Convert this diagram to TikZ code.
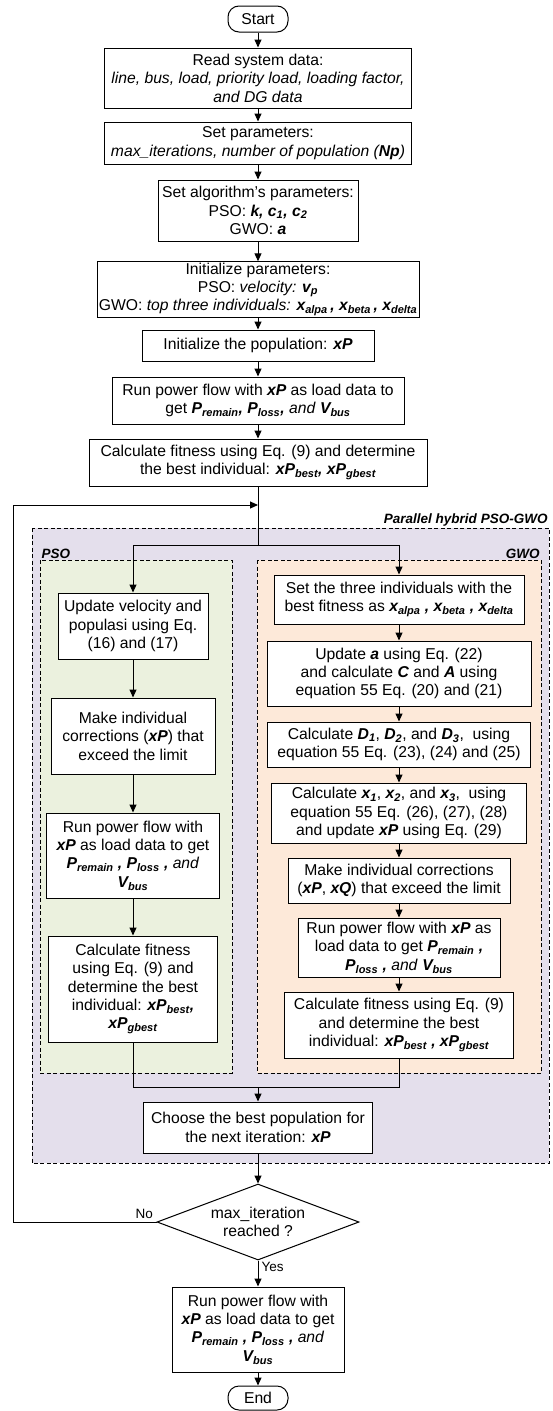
\documentclass[tikz,border=0pt]{standalone}
\usepackage{fontspec}
\setmainfont{Liberation Sans}
\usepackage{tikz}
\usetikzlibrary{shapes.geometric, arrows.meta, calc}
\definecolor{hybridfill}{HTML}{E4DFEC}
\definecolor{psofill}{HTML}{EBF1DE}
\definecolor{gwofill}{HTML}{FDE9D9}
\newcommand{\bi}[1]{\textbf{\textit{#1}}}
\newcommand{\bsub}[2]{\textbf{\textit{#1\textsubscript{#2}}}}
\tikzstyle{terminal} = [rectangle, rounded corners=11pt, minimum width=60pt, minimum height=26pt, inner sep=0pt, draw=black, fill=white]
\tikzstyle{block} = [rectangle, align=flush center, inner sep=1pt, draw=black, fill=white]
\tikzstyle{check} = [diamond, aspect=2.66, minimum width=202pt, minimum height=76pt, inner sep=0pt, align=flush center, draw=black, fill=white]
\tikzstyle{arrow} = [->, >={Triangle[length=8pt, width=7pt]}]
\tikzstyle{region} = [dash pattern=on 4pt off 2.5pt]
\tikzstyle{tag} = [font=\fontsize{13.5pt}{15pt}\selectfont, inner sep=1pt]

\begin{document}
\begin{tikzpicture}[x=1pt, y=-1pt, node distance=60pt, line width=1pt, font=\fontsize{15.7pt}{18.4pt}\selectfont]
  \useasboundingbox (0,0) rectangle (553,1411);
  % shaded groups
  \draw [region, fill=hybridfill] (32,528) rectangle (549,1163);
  \draw [region, fill=psofill] (40,560) rectangle (232,1073);
  \draw [region, fill=gwofill] (257,560) rectangle (541,1073);
  \node (hybridtag) [tag, anchor=south east] at (549,528) {\bi{Parallel hybrid PSO-GWO}};
  \node (psotag) [tag, anchor=south west] at (40,560) {\bi{PSO}};
  \node (gwotag) [tag, anchor=south east] at (541,560) {\bi{GWO}};
  % main column
  \node (start) [terminal] at (258,19) {Start};
  \node (read) [block, below of = start, yshift = 1pt, text width = 305pt, minimum height = 60pt] {Read system data:\\\textit{line, bus, load, priority load, loading factor,}\\\textit{and DG data}};
  \node (setpar) [block, below of = read, yshift = -5pt, text width = 305pt, minimum height = 42pt] {Set parameters:\\\textit{max\_iterations, number of population (\textbf{Np})}};
  \node (algpar) [block, below of = setpar, yshift = -7.5pt, text width = 198pt, minimum height = 61pt] {Set algorithm’s parameters:\\PSO: \bi{k, c\textsubscript{1}, c\textsubscript{2}}\\GWO: \bi{a}};
  \node (initpar) [block, below of = algpar, yshift = -19pt, text width = 320pt, minimum height = 51pt] {Initialize parameters:\\PSO: \textit{velocity:} \bsub{v}{p}\\GWO: \textit{top three individuals:} \bsub{x}{alpa}\,\bi{,} \bsub{x}{beta}\,\bi{,} \bsub{x}{delta}};
  \node (initpop) [block, below of = initpar, yshift = 4pt, text width = 230pt, minimum height = 31pt] {Initialize the population: \bi{xP}};
  \node (runpf) [block, below of = initpop, yshift = 5pt, text width = 290pt, minimum height = 47pt] {Run power flow with \bi{xP} as load data to\\get \bsub{P}{remain}\bi{,} \bsub{P}{loss}\bi{,} \textit{and} \bsub{V}{bus}};
  \node (fitness) [block, below of = runpf, yshift = -2pt, text width = 336pt, minimum height = 47pt] {Calculate fitness using Eq. (9) and determine\\the best individual: \bsub{xP}{best}\bi{,} \bsub{xP}{gbest}};
  \coordinate (loop) at (258,505);
  \coordinate (split) at (258,545);
  % PSO branch
  \node (pso1) [block, text width = 148pt, minimum height = 66pt] at (133,626) {Update velocity and\\populasi using Eq.\\(16) and (17)};
  \node (pso2) [block, below of = pso1, yshift = -50pt, text width = 162pt, minimum height = 76pt] {Make individual\\corrections (\bi{xP}) that\\exceed the limit};
  \node (pso3) [block, below of = pso2, yshift = -59.5pt, text width = 171pt, minimum height = 85pt] {Run power flow with\\\bi{xP} as load data to get\\\bsub{P}{remain}\bi{ ,} \bsub{P}{loss}\bi{ ,} \textit{and}\\\bsub{V}{bus}};
  \node (pso4) [block, below of = pso3, yshift = -73.5pt, text width = 167pt, minimum height = 106pt] {Calculate fitness\\using Eq. (9) and\\determine the best\\individual: \bsub{xP}{best}\bi{,}\\\bsub{xP}{gbest}};
  % GWO branch
  \node (gwo1) [block, text width = 248pt, minimum height = 49pt] at (399,599.5) {Set the three individuals with the\\best fitness as \bsub{x}{alpa}\bi{ ,} \bsub{x}{beta}\bi{ ,} \bsub{x}{delta}};
  \node (gwo2) [block, below of = gwo1, yshift = -14pt, text width = 262pt, minimum height = 65pt] {Update \bi{a} using Eq. (22)\\and calculate \bi{C} and \bi{A} using\\equation 55 Eq. (20) and (21)};
  \node (gwo3) [block, below of = gwo2, yshift = -11pt, text width = 261pt, minimum height = 45pt] {Calculate \bsub{D}{1}, \bsub{D}{2}, and \bsub{D}{3},~ using\\equation 55 Eq. (23), (24) and (25)};
  \node (gwo4) [block, below of = gwo3, yshift = -8.5pt, text width = 253pt, minimum height = 60pt] {Calculate \bsub{x}{1}, \bsub{x}{2}, and \bsub{x}{3},~ using\\equation 55 Eq. (26), (27), (28)\\and update \bi{xP} using Eq. (29)};
  \node (gwo5) [block, below of = gwo4, yshift = -7.5pt, text width = 220pt, minimum height = 45pt] {Make individual corrections\\(\bi{xP}, \bi{xQ}) that exceed the limit};
  \node (gwo6) [block, below of = gwo5, yshift = -7pt, text width = 200pt, minimum height = 59pt] {Run power flow with \bi{xP} as\\load data to get \bsub{P}{remain}\bi{ ,}\\\bsub{P}{loss}\bi{ ,} \textit{and} \bsub{V}{bus}};
  \node (gwo7) [block, below of = gwo6, yshift = -17.5pt, text width = 227pt, minimum height = 66pt] {Calculate fitness using Eq. (9)\\and determine the best\\individual: \bsub{xP}{best}\bi{ ,} \bsub{xP}{gbest}};
  \coordinate (merge) at (258,1087);
  % after the loop
  \node (choose) [block, text width = 227pt, minimum height = 51pt] at (258,1127.5) {Choose the best population for\\the next iteration: \bi{xP}};
  \node (reached) [check, below of = choose, yshift = -34.5pt] {max\_iteration\\reached ?};
  \node (final) [block, below of = reached, yshift = -47.5pt, text width = 170pt, minimum height = 85pt] {Run power flow with\\\bi{xP} as load data to get\\\bsub{P}{remain}\bi{ ,} \bsub{P}{loss}\bi{ ,} \textit{and}\\\bsub{V}{bus}};
  \node (end) [terminal, below of = final, yshift = -8.5pt, minimum height = 24pt] {End};
  % connectors
  \draw [arrow] (start) -- (read);
  \draw [arrow] (read) -- (setpar);
  \draw [arrow] (setpar) -- (algpar);
  \draw [arrow] (algpar) -- (initpar);
  \draw [arrow] (initpar) -- (initpop);
  \draw [arrow] (initpop) -- (runpf);
  \draw [arrow] (runpf) -- (fitness);
  \draw (fitness) -- (split);
  \draw [arrow] (split) -| (pso1);
  \draw [arrow] (split) -| (gwo1);
  \draw [arrow] (pso1) -- (pso2);
  \draw [arrow] (pso2) -- (pso3);
  \draw [arrow] (pso3) -- (pso4);
  \draw [arrow] (gwo1) -- (gwo2);
  \draw [arrow] (gwo2) -- (gwo3);
  \draw [arrow] (gwo3) -- (gwo4);
  \draw [arrow] (gwo4) -- (gwo5);
  \draw [arrow] (gwo5) -- (gwo6);
  \draw [arrow] (gwo6) -- (gwo7);
  \draw (pso4) |- (merge) -| (gwo7);
  \draw [arrow] (merge) -- (choose);
  \draw [arrow] (choose) -- (reached);
  \draw [arrow] (reached) -- node [tag, pos = 0.25, right, inner sep = 3pt] {Yes} (final);
  \draw [arrow] (final) -- (end);
  \draw [arrow] (reached.west) node [tag, above left, inner sep = 3pt] {No} -- ++(-143,0) |- (loop);
\end{tikzpicture}
\end{document}
